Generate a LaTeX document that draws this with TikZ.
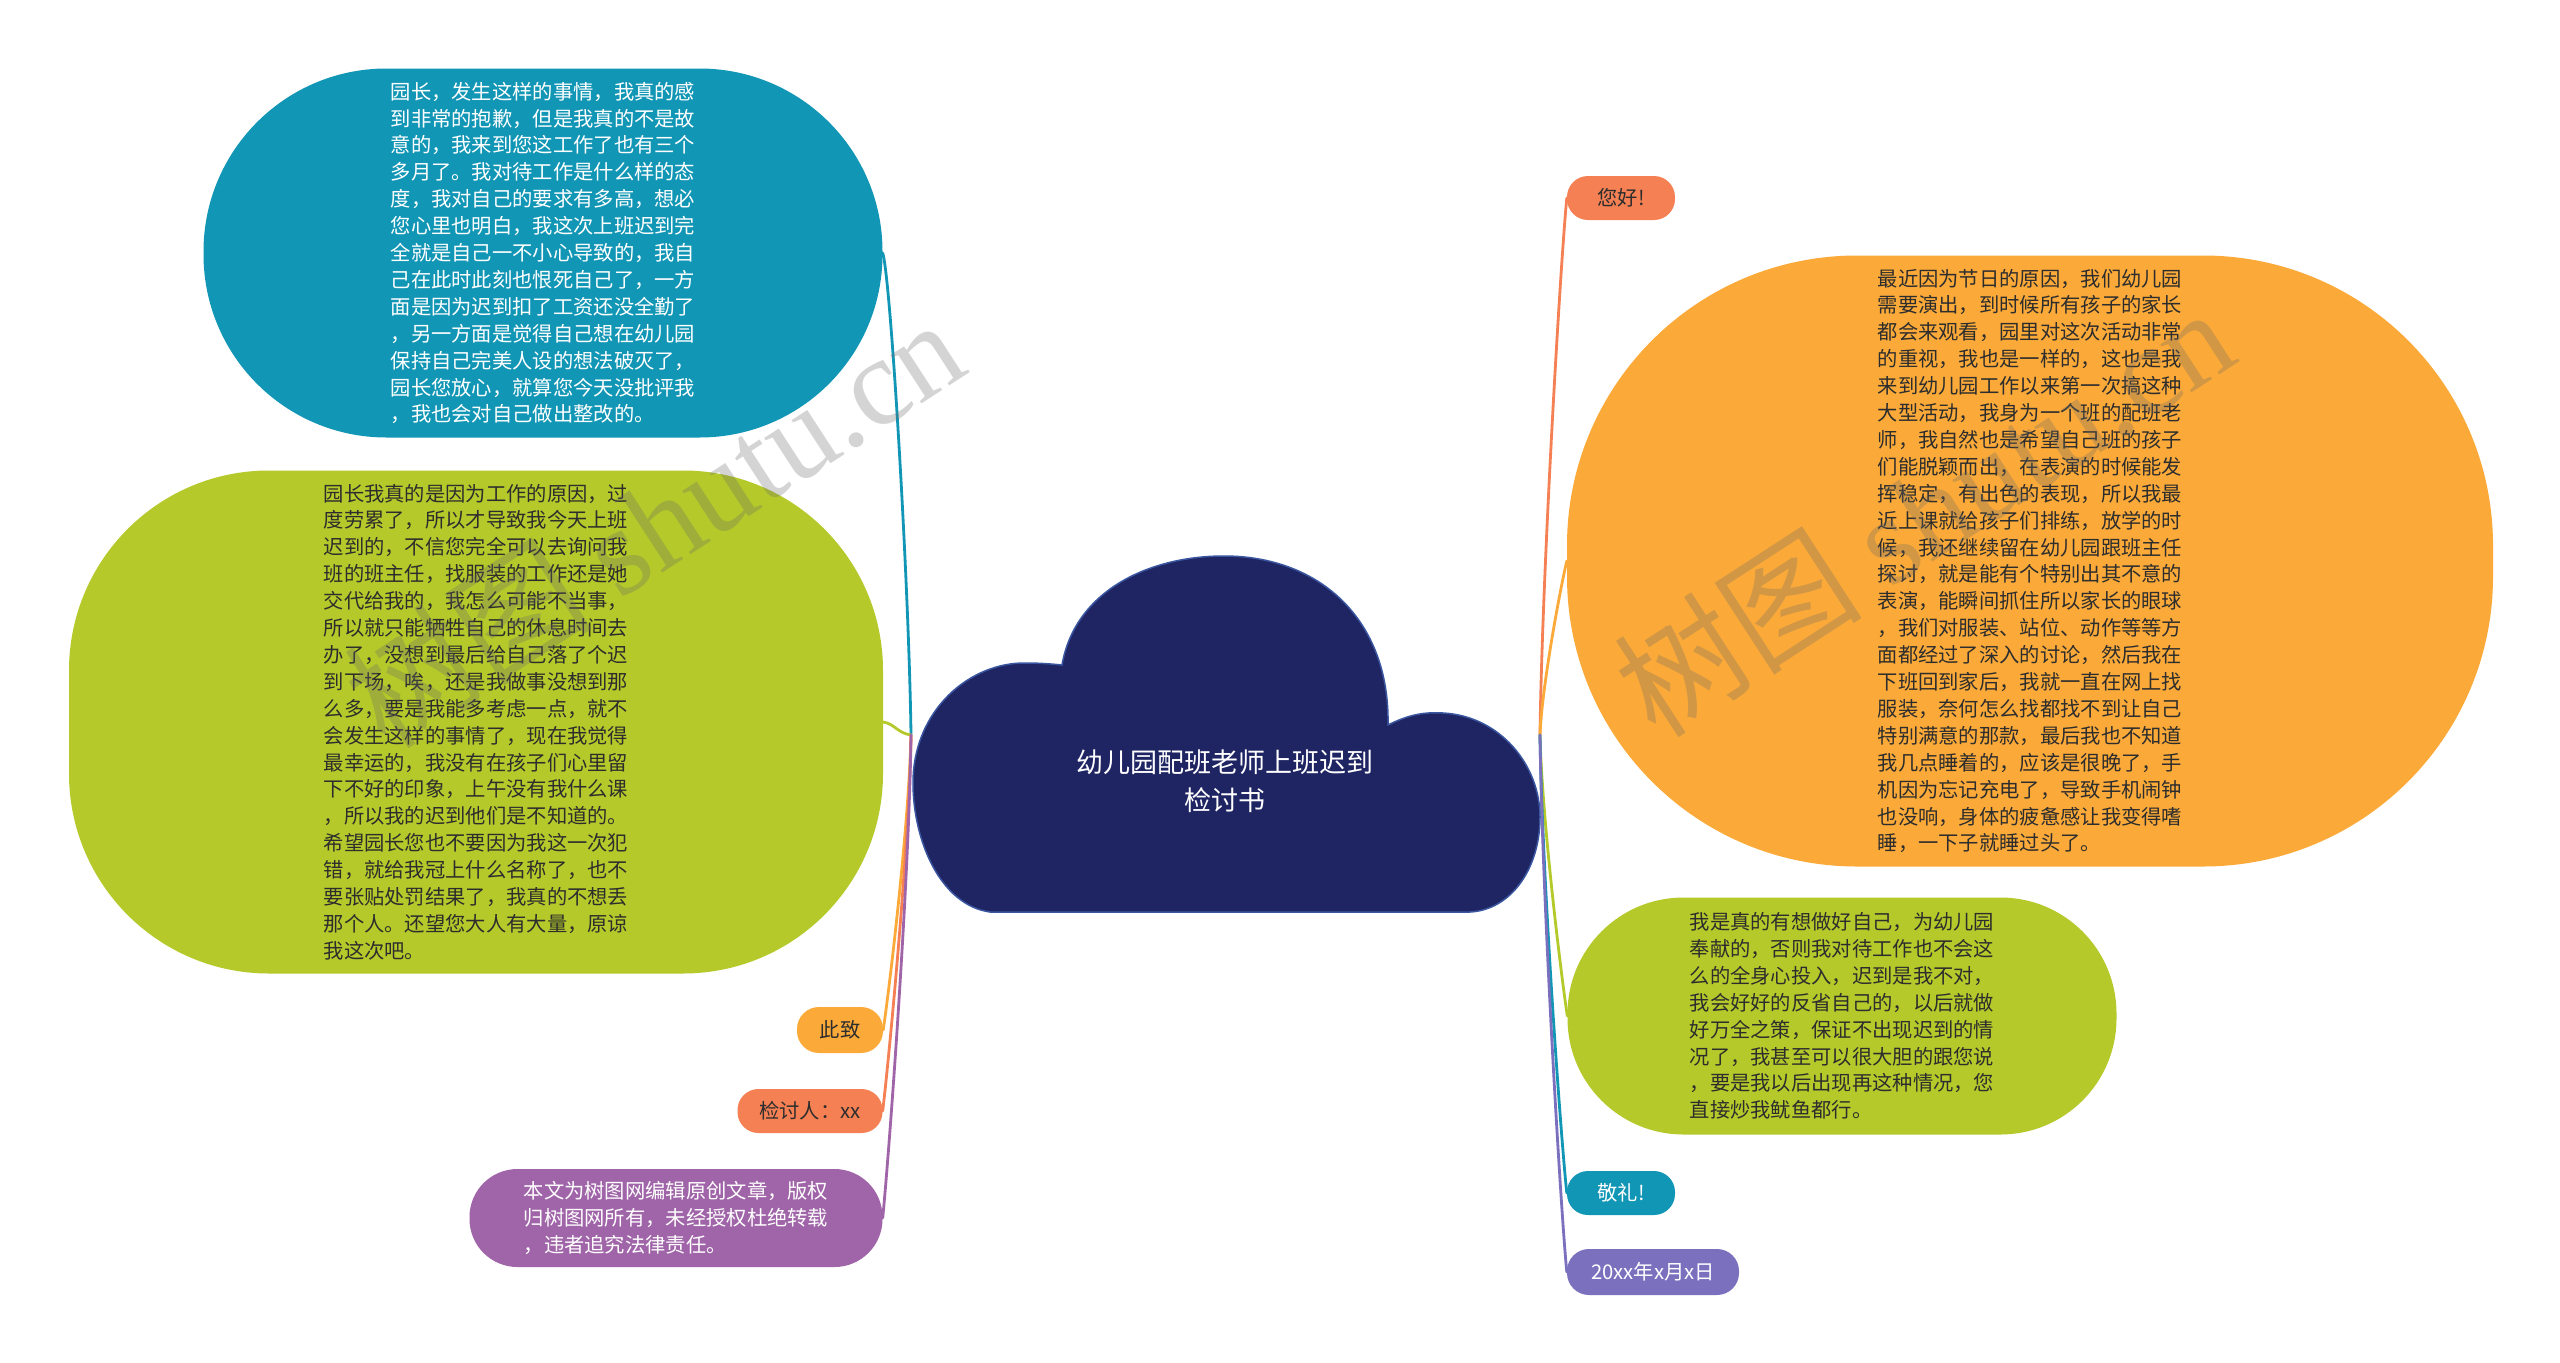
\documentclass[tikz,border=0pt]{standalone}
\usepackage{fontspec}
\setmainfont{Noto Sans CJK SC}
\newfontfamily\cjkfont{Noto Sans CJK SC}
\newfontfamily\wmfont{Liberation Serif}
\usetikzlibrary{calc}
\definecolor{cteal}{RGB}{18,150,181}
\definecolor{cgreen}{RGB}{181,202,42}
\definecolor{corange}{RGB}{251,170,57}
\definecolor{csalmon}{RGB}{244,128,84}
\definecolor{cpurple}{RGB}{160,100,168}
\definecolor{clav}{RGB}{122,112,190}
\definecolor{cnavy}{RGB}{31,37,99}
\definecolor{cnavyedge}{RGB}{58,86,160}
\definecolor{ctext}{RGB}{45,45,45}
\tikzset{
  bubble/.style={inner sep=0pt, align=left, font=\fontsize{20.3}{26.9}\selectfont},
  pill/.style={inner sep=0pt, font=\fontsize{20.3}{24}\selectfont},
  conn/.style={line width=2.8pt, line cap=round},
  wmark/.style={rotate=33, text=black!60, text opacity=0.28, font=\fontsize{125}{130}\selectfont, inner sep=0pt}
}
\begin{document}
\begin{tikzpicture}[x=1pt,y=-1pt]
\useasboundingbox (0,0) rectangle (2560,1363);
\fill[white] (0,0) rectangle (2560,1363);

% junction points
\coordinate (JL) at (911,735);
\coordinate (JR) at (1540,735);

% nodes
\node[bubble, fill=cteal, text=white, minimum width=679pt, minimum height=369pt, rounded corners=183pt] (b1) at (543,253) {%
园长，发生这样的事情，我真的感\\
到非常的抱歉，但是我真的不是故\\
意的，我来到您这工作了也有三个\\
多月了。我对待工作是什么样的态\\
度，我对自己的要求有多高，想必\\
您心里也明白，我这次上班迟到完\\
全就是自己一不小心导致的，我自\\
己在此时此刻也恨死自己了，一方\\
面是因为迟到扣了工资还没全勤了\\
，另一方面是觉得自己想在幼儿园\\
保持自己完美人设的想法破灭了，\\
园长您放心，就算您今天没批评我\\
，我也会对自己做出整改的。};

\node[bubble, fill=cgreen, text=ctext, minimum width=814pt, minimum height=503pt, rounded corners=200pt] (g1) at (476,722) {%
园长我真的是因为工作的原因，过\\
度劳累了，所以才导致我今天上班\\
迟到的，不信您完全可以去询问我\\
班的班主任，找服装的工作还是她\\
交代给我的，我怎么可能不当事，\\
所以就只能牺牲自己的休息时间去\\
办了，没想到最后给自己落了个迟\\
到下场，唉，还是我做事没想到那\\
么多，要是我能多考虑一点，就不\\
会发生这样的事情了，现在我觉得\\
最幸运的，我没有在孩子们心里留\\
下不好的印象，上午没有我什么课\\
，所以我的迟到他们是不知道的。\\
希望园长您也不要因为我这一次犯\\
错，就给我冠上什么名称了，也不\\
要张贴处罚结果了，我真的不想丢\\
那个人。还望您大人有大量，原谅\\
我这次吧。};

\node[pill, fill=corange, text=ctext, minimum width=86pt, minimum height=46pt, rounded corners=22pt] (l1) at (840,1030) {此致};
\node[pill, fill=csalmon, text=ctext, minimum width=145pt, minimum height=44pt, rounded corners=21pt] (l2) at (810,1111) {检讨人：xx};
\node[bubble, fill=cpurple, text=white, minimum width=413pt, minimum height=98pt, rounded corners=48pt] (p1) at (676,1218) {%
本文为树图网编辑原创文章，版权\\
归树图网所有，未经授权杜绝转载\\
，违者追究法律责任。};

\node[pill, fill=csalmon, text=ctext, minimum width=108pt, minimum height=44pt, rounded corners=21pt] (h1) at (1621,198) {您好!};
\node[bubble, fill=corange, text=ctext, minimum width=926pt, minimum height=611pt, rounded corners=290pt] (o1) at (2030,561) {%
最近因为节日的原因，我们幼儿园\\
需要演出，到时候所有孩子的家长\\
都会来观看，园里对这次活动非常\\
的重视，我也是一样的，这也是我\\
来到幼儿园工作以来第一次搞这种\\
大型活动，我身为一个班的配班老\\
师，我自然也是希望自己班的孩子\\
们能脱颖而出，在表演的时候能发\\
挥稳定，有出色的表现，所以我最\\
近上课就给孩子们排练，放学的时\\
候，我还继续留在幼儿园跟班主任\\
探讨，就是能有个特别出其不意的\\
表演，能瞬间抓住所以家长的眼球\\
，我们对服装、站位、动作等等方\\
面都经过了深入的讨论，然后我在\\
下班回到家后，我就一直在网上找\\
服装，奈何怎么找都找不到让自己\\
特别满意的那款，最后我也不知道\\
我几点睡着的，应该是很晚了，手\\
机因为忘记充电了，导致手机闹钟\\
也没响，身体的疲惫感让我变得嗜\\
睡，一下子就睡过头了。};
\node[bubble, fill=cgreen, text=ctext, minimum width=549pt, minimum height=237pt, rounded corners=116pt] (g2) at (1842,1016) {%
我是真的有想做好自己，为幼儿园\\
奉献的，否则我对待工作也不会这\\
么的全身心投入，迟到是我不对，\\
我会好好的反省自己的，以后就做\\
好万全之策，保证不出现迟到的情\\
况了，我甚至可以很大胆的跟您说\\
，要是我以后出现再这种情况，您\\
直接炒我鱿鱼都行。};
\node[pill, fill=cteal, text=white, minimum width=108pt, minimum height=44pt, rounded corners=21pt] (h2) at (1621,1193) {敬礼!};
\node[pill, fill=clav, text=white, minimum width=172pt, minimum height=46pt, rounded corners=22pt] (h3) at (1653,1272) {20xx年x月x日};

% connectors
\draw[conn, cteal] (JL) .. controls ($(JL)+(-2,-150)$) and ($(b1.east)+(8,25)$) .. (b1.east);
\draw[conn, cgreen] (JL) .. controls ($(JL)+(-14,-2)$) and ($(g1.east)+(12,2)$) .. (g1.east);
\draw[conn, corange] (JL) .. controls ($(JL)+(-2,90)$) and ($(l1.east)+(6,-40)$) .. (l1.east);
\draw[conn, csalmon] (JL) .. controls ($(JL)+(-2,115)$) and ($(l2.east)+(6,-50)$) .. (l2.east);
\draw[conn, cpurple] (JL) .. controls ($(JL)+(-2,150)$) and ($(p1.east)+(6,-60)$) .. (p1.east);
\draw[conn, csalmon] (JR) .. controls ($(JR)+(2,-160)$) and ($(h1.west)+(-6,60)$) .. (h1.west);
\draw[conn, corange] (JR) .. controls ($(JR)+(2,-50)$) and ($(o1.west)+(-6,25)$) .. (o1.west);
\draw[conn, cgreen] (JR) .. controls ($(JR)+(2,85)$) and ($(g2.west)+(-6,-40)$) .. (g2.west);
\draw[conn, cteal] (JR) .. controls ($(JR)+(2,140)$) and ($(h2.west)+(-6,-55)$) .. (h2.west);
\draw[conn, clav] (JR) .. controls ($(JR)+(2,160)$) and ($(h3.west)+(-6,-60)$) .. (h3.west);

% central cloud
\path[fill=cnavy, draw=cnavyedge, line width=1.5pt]
  (1062,665) .. controls (1075,590) and (1150,556) .. (1224,556)
  .. controls (1320,556) and (1390,620) .. (1388,725)
  .. controls (1410,714) and (1425,712) .. (1443,713)
  .. controls (1500,716) and (1540,765) .. (1540,817)
  .. controls (1540,870) and (1510,910) .. (1470,912)
  -- (990,912)
  .. controls (940,905) and (913,840) .. (913,783)
  .. controls (913,710) and (970,662) .. (1026,663)
  .. controls (1040,663) and (1052,664) .. (1062,665) -- cycle;
\node[align=center, text=white, font=\fontsize{27}{38}\selectfont, inner sep=0pt] (root) at (1225,781) {幼儿园配班老师上班迟到\\检讨书};

% watermarks
\node[wmark] (wm1) at (653,522) {{\cjkfont 树图} {\wmfont shutu.cn}};
\node[wmark] (wm2) at (1923,511) {{\cjkfont 树图} {\wmfont shutu.cn}};
\end{tikzpicture}
\end{document}
